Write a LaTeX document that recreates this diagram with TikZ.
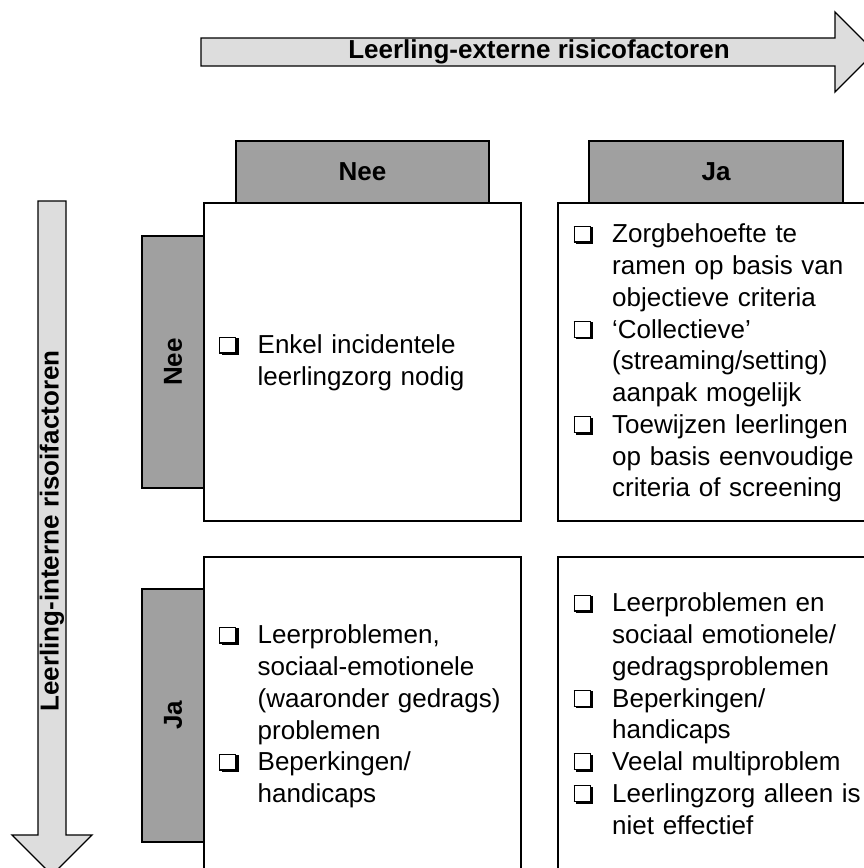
\documentclass[tikz,border=0pt]{standalone}
\usepackage{fontspec}
\setmainfont{Liberation Sans}
\definecolor{hdrgray}{HTML}{A0A0A0}
\definecolor{arrgray}{HTML}{DDDDDD}
\newcommand\cbx{\raisebox{1.5pt}{\makebox[0pt][l]{\kern2.6pt\raisebox{-2.6pt}{\rule{17pt}{17pt}}}{\setlength\fboxsep{0pt}\setlength\fboxrule{1.1pt}\fcolorbox{black}{white}{\rule{0pt}{14.8pt}\rule{14.8pt}{0pt}}}}}
\newlength\itmind
\setlength\itmind{38.5pt}
\newcommand\itm[1]{\par\noindent\hangindent=\itmind\hangafter=1\makebox[\itmind][l]{\cbx}\rule{0pt}{22pt}#1\par}
\tikzset{
  frame/.style={draw=black, line width=1.5pt},
  hdrbox/.style={frame, fill=hdrgray},
  cellbox/.style={frame, fill=white},
  arrowshape/.style={draw=black, line width=1.3pt, fill=arrgray, line join=miter},
  hdrtext/.style={font=\fontsize{26}{31.75}\selectfont\bfseries, inner sep=0pt},
  celltext/.style={font=\fontsize{26}{31.75}\selectfont, inner sep=0pt, align=left, anchor=north west, text width=300pt},
}
\begin{document}
\begin{tikzpicture}[x=1pt,y=-1pt]
\useasboundingbox (0,0) rectangle (864,868);
\clip (0,0) rectangle (864,868);
% arrows
\draw[arrowshape] (201,38) -- (835,38) -- (835,12) -- (875,52) -- (835,92) -- (835,66) -- (201,66) -- cycle;
\node[hdrtext] (extlabel) at (539,52) {Leerling-externe risicofactoren};
\draw[arrowshape] (38,201) -- (66,201) -- (66,835) -- (92,835) -- (52,875) -- (12,835) -- (38,835) -- cycle;
\node[hdrtext, rotate=90] (intlabel) at (52,531) {Leerling-interne risoifactoren};
% headers
\draw[hdrbox] (236,141) rectangle (489,203);
\node[hdrtext] (colnee) at (362.5,172) {Nee};
\draw[hdrbox] (589,141) rectangle (843,203);
\node[hdrtext] (colja) at (716,172) {Ja};
\draw[hdrbox] (142,236) rectangle (204,488);
\node[hdrtext, rotate=90] (rownee) at (173,362) {Nee};
\draw[hdrbox] (142,589) rectangle (204,842);
\node[hdrtext, rotate=90] (rowja) at (173,715.5) {Ja};
% cells
\draw[cellbox] (204,203) rectangle (521,521);
\draw[cellbox] (558,203) rectangle (890,521);
\draw[cellbox] (204,557) rectangle (521,890);
\draw[cellbox] (558,557) rectangle (890,890);
% cell texts
\node[celltext] (tl) at (219,344-22) {\itm{Enkel incidentele\newline leerlingzorg nodig}};
\node[celltext] (tr) at (573.5,233-22) {%
\itm{Zorgbehoefte te\newline ramen op basis van\newline objectieve criteria}%
\itm{‘Collectieve’\newline (streaming/setting)\newline aanpak mogelijk}%
\itm{Toewijzen leerlingen\newline op basis eenvoudige\newline criteria of screening}};
\node[celltext] (bl) at (219,634-22) {%
\itm{Leerproblemen,\newline sociaal-emotionele\newline (waaronder gedrags)\newline problemen}%
\itm{Beperkingen/\newline handicaps}};
\node[celltext] (br) at (573.5,602-22) {%
\itm{Leerproblemen en\newline sociaal emotionele/\newline gedragsproblemen}%
\itm{Beperkingen/\newline handicaps}%
\itm{Veelal multiproblem}%
\itm{Leerlingzorg alleen is\newline niet effectief}};
\end{tikzpicture}
\end{document}
